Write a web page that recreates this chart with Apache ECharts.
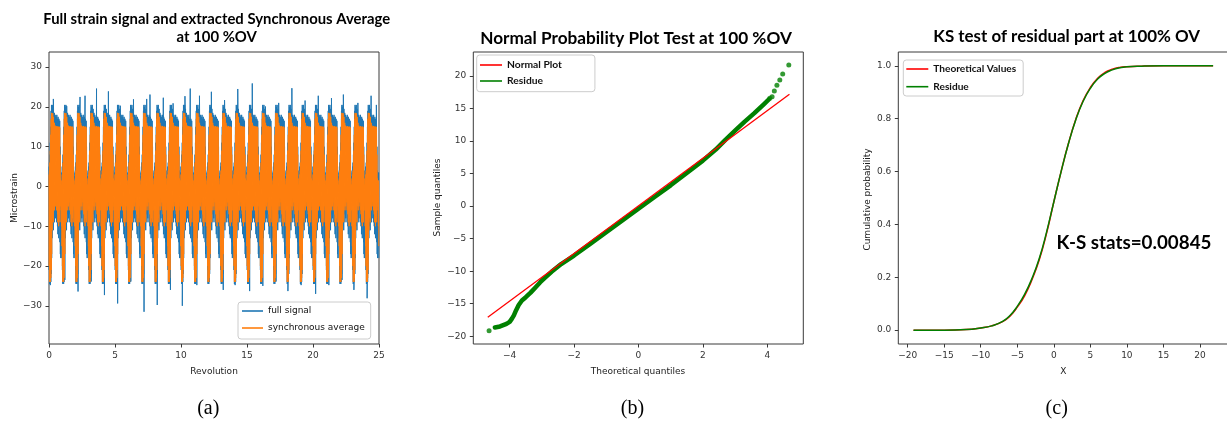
<!DOCTYPE html>
<html><head><meta charset="utf-8">
<script src="https://cdn.jsdelivr.net/npm/echarts@6/dist/echarts.min.js"></script>
<style>html,body{margin:0;padding:0;background:#fff}#c{width:1227px;height:421px}</style>
</head><body><div id="c"></div>
<script>
// ---------- Panel (a): full strain signal and synchronous average ----------
const revolutions = 25;
const revolutionTicks = [0, 5, 10, 15, 20, 25];
const strainTicks = [-30, -20, -10, 0, 10, 20, 30];
// one revolution of the synchronous average (upper / lower swing of the oscillation, 32 phases)
const syncUpper = [3,4,6,9,13,17,18.5,18.3,17,18.4,16.5,17.5,15.2,16,15,15.3,15,15,14.8,15.2,15,15,14.9,15,15,15,14.8,8,2,0.5,0.3,1.5];
const syncLower = [-20,-24,-23.8,-24,-23,-21,-17,-11,-8,-6,-9,-5,-4,-6,-3,-5,-4,-3,-6,-4,-7,-9,-6,-10,-8,-6,-9,-5,-4,-6,-10,-15];
// typical swing of the full signal within a revolution
const fullUpper = [5,6,8,11,15,19,20.5,20,19,20.5,18.5,19.5,17.5,18.5,17,18,17.5,16.5,17.5,18,16.5,17,17.5,16.5,17,16.5,16.5,10,4,2.5,2.5,3.5];
const fullLower = [-21,-24.5,-24.3,-24.5,-24,-22,-18,-13,-10,-8,-11,-7,-6,-9,-5,-8,-6,-5,-9,-7,-10,-12,-9,-13,-10,-8,-14,-17,-18,-12,-13,-18];
// individual peaks of the full signal [revolution, microstrain]
const fullTopPeaks = [[0.33,22.0],[1.34,20.2],[2.35,22.5],[2.73,22.8],[3.6,24.6],[4.5,23.9],[5.4,20.3],[6.4,21.9],[7.4,22.0],[7.65,23.1],[8.66,22.3],[9.4,20.9],[10.3,22.7],[10.7,24.6],[11.4,22.8],[12.3,23.8],[13.3,21.7],[14.3,24.5],[15.4,25.9],[16.4,20.1],[17.4,21.0],[18.4,24.7],[19.4,21.6],[20.4,22.8],[21.4,22.2],[22.3,23.1],[23.4,21.0],[24.4,22.8],[24.8,20.5]];
const fullBottomPeaks = [[0.1,-24.8],[1.2,-23.5],[2.2,-26.4],[3.2,-23.9],[4.2,-27.3],[5.2,-29.4],[6.2,-23.9],[7.2,-31.5],[8.2,-29.8],[9.2,-26.0],[10.1,-30.0],[11.2,-24.8],[12.1,-23.9],[13.2,-26.0],[14.1,-24.8],[15.2,-26.3],[16.2,-25.0],[17.2,-23.9],[18.1,-26.3],[19.1,-24.8],[20.2,-27.0],[21.2,-24.8],[22.2,-23.5],[23.1,-26.0],[24.1,-28.1]];

// ---------- Panel (b): normal probability plot ----------
const qqXTicks = [-4, -2, 0, 2, 4];
const qqYTicks = [-20, -15, -10, -5, 0, 5, 10, 15, 20];
const normalLine = [[-4.68, -17.1], [4.69, 17.2]];
const residueBand = [[-4.46,-18.65],[-4.3,-18.5],[-4.2,-18.3],[-4.1,-18.1],[-4.0,-17.8],[-3.93,-17.3],[-3.87,-16.8],[-3.8,-16.0],[-3.72,-15.2],[-3.62,-14.5],[-3.5,-14.0],[-3.35,-13.3],[-3.2,-12.5],[-3.05,-11.7],[-2.9,-11.0],[-2.7,-10.1],[-2.4,-8.9],[-2.0,-7.6],[-1.5,-5.8],[-1.0,-4.0],[-0.5,-2.2],[0,-0.4],[0.5,1.4],[1.0,3.2],[1.5,5.1],[2.0,7.0],[2.4,8.7],[2.7,10.2],[3.0,11.6],[3.3,13.0],[3.6,14.3],[3.9,15.7],[4.05,16.4]];
const residueTailDots = [[-4.64,-19.15],[4.08,16.6],[4.15,16.8],[4.22,17.7],[4.30,18.6],[4.39,19.4],[4.48,20.3],[4.67,21.7]];

// ---------- Panel (c): KS test ----------
const ksXTicks = [-20, -15, -10, -5, 0, 5, 10, 15, 20];
const ksYTicks = [0, 0.2, 0.4, 0.6, 0.8, 1.0];
const ksX =            [-19.2,-15,  -12,  -10,  -8.5, -7,   -6,   -5,  -4,   -3,   -2,  -1,  0,    1,   2,    3,    4,    5,    6,   7,    8,    9,    10,   12,   15,  21.8];
const ksTheoretical =  [0.000,0.000,0.002,0.008,0.016,0.032,0.053,0.087,0.13,0.19, 0.265,0.365,0.485,0.6,0.706,0.797,0.868,0.918,0.953,0.975,0.987,0.994,0.997,0.999,1.0,1.0];
const ksResidue =      [0.000,0.000,0.002,0.008,0.016,0.033,0.055,0.09, 0.135,0.195,0.27,0.37,0.485,0.6,0.705,0.795,0.865,0.915,0.95,0.972,0.985,0.993,0.997,0.999,1.0,1.0];

// ---------- helpers ----------
function periodic(upper, lower) {
  const out = [], n = upper.length;
  for (let r = 0; r < revolutions; r++) {
    for (let k = 0; k < n; k++) {
      out.push([r + k / n, upper[k]]);
      out.push([r + (k + 0.5) / n, lower[k]]);
    }
  }
  return out;
}
const syncData = periodic(syncUpper, syncLower);
const fullData = periodic(fullUpper, fullLower).concat(fullTopPeaks, fullBottomPeaks).sort((a, b) => a[0] - b[0]);
const zip = (xs, ys) => xs.map((x, i) => [x, ys[i]]);

const LATO = "Lato, 'Open Sans', sans-serif";
const DEJAVU = "'DejaVu Sans', sans-serif";
const SERIF = "'Liberation Serif', serif";
const mctx = document.createElement('canvas').getContext('2d');
function fit(text, weight, family, width) { mctx.font = weight + ' 100px ' + family; return 100 * width / mctx.measureText(text).width; }
const minus = v => String(v).replace('-', '\u2212');

const titleA = 'Full strain signal and extracted Synchronous Average';
const titleB = 'Normal Probability Plot Test at 100 %OV';
const titleC = 'KS test of residual part at 100% OV';
const ksText = 'K-S stats=0.00845';
const sA = fit(titleA, 'bold', LATO, 347);
const sB = fit(titleB, 'bold', LATO, 312);
const sC = fit(titleC, 'bold', LATO, 267);
const sK = fit(ksText, 'bold', LATO, 155);
const sLegB = fit('Normal Plot', 'bold', LATO, 55);
const sLegC = fit('Theoretical Values', 'bold', LATO, 83);

function gtext(text, x, y, family, size, opts) {
  opts = opts || {};
  return { type: 'text', x: x, y: y, rotation: opts.rot || 0, silent: true, z: 10,
    style: { text: text, fontFamily: family, fontSize: size, fontWeight: opts.weight || 'normal',
      fill: opts.color || '#222', align: 'center', verticalAlign: 'middle',
      textAlign: 'center', textVerticalAlign: 'middle' } };
}
const graphics = [
  gtext(titleA, 216.7, 19, LATO, sA, {weight: 'bold', color: '#000'}),
  gtext('at 100 %OV', 216.7, 37.5, LATO, sA, {weight: 'bold', color: '#000'}),
  gtext(titleB, 636, 38, LATO, sB, {weight: 'bold', color: '#000'}),
  gtext(titleC, 1066.7, 37, LATO, sC, {weight: 'bold', color: '#000'}),
  gtext('Revolution', 214, 371.5, DEJAVU, 9),
  gtext('Microstrain', 15, 198, DEJAVU, 9, {rot: Math.PI / 2}),
  gtext('Theoretical quantiles', 638, 371.5, DEJAVU, 9),
  gtext('Sample quantiles', 437.5, 197.5, DEJAVU, 9, {rot: Math.PI / 2}),
  gtext('X', 1063.3, 371.5, DEJAVU, 9),
  gtext('Cumulative probability', 867.5, 199.5, DEJAVU, 9, {rot: Math.PI / 2}),
  gtext(ksText, 1134, 242.5, LATO, sK, {weight: 'bold', color: '#000'}),
  gtext('(a)', 208.3, 409, SERIF, 20, {color: '#000'}),
  gtext('(b)', 632.5, 409, SERIF, 20, {color: '#000'}),
  gtext('(c)', 1056.7, 409, SERIF, 20, {color: '#000'})
];

function grid(left) {
  return { left: left, top: 52, width: 330, height: 292, show: true, borderColor: '#3a3a3a', borderWidth: 1,
    backgroundColor: 'transparent', containLabel: false, outerBoundsMode: 'none' };
}
function axis(gi, min, max, ticks, fmt) {
  return { type: 'value', gridIndex: gi, min: min, max: max, scale: true,
    axisLine: { show: false, onZero: false }, splitLine: { show: false },
    axisTick: { show: true, length: 3.5, lineStyle: { color: '#3a3a3a', width: 1 }, customValues: ticks },
    axisLabel: { customValues: ticks, formatter: fmt, margin: 7, color: '#333',
      fontFamily: 'DejaVu Sans', fontSize: 9, showMinLabel: true, showMaxLabel: true, hideOverlap: false } };
}
const fmtInt = v => minus(Math.round(v));
const fmt1 = v => minus(v.toFixed(1));

function legend(names, left, top, pad, gap, fontSize, fontWeight, fontFamily, itemWidth) {
  return { data: names, orient: 'vertical', left: left, top: top, padding: pad, itemGap: gap,
    icon: 'rect', itemWidth: itemWidth, itemHeight: 1.6, selectedMode: false,
    backgroundColor: 'rgba(255,255,255,0.85)', borderColor: '#cccccc', borderWidth: 1, borderRadius: 3,
    textStyle: { fontSize: fontSize, fontWeight: fontWeight, fontFamily: fontFamily, color: '#111', lineHeight: 12 } };
}

const option = {
  animation: false,
  backgroundColor: '#fff',
  grid: [grid(49), grid(473.3), grid(898.3)],
  xAxis: [
    axis(0, 0, 25, revolutionTicks, fmtInt),
    axis(1, -5.13, 5.12, qqXTicks, fmtInt),
    axis(2, -21.28, 23.88, ksXTicks, fmtInt)
  ],
  yAxis: [
    axis(0, -39.6, 33.8, strainTicks, fmtInt),
    axis(1, -21.2, 23.7, qqYTicks, fmtInt),
    axis(2, -0.0525, 1.0525, ksYTicks, fmt1)
  ],
  legend: [
    legend(['full signal', 'synchronous average'], 238, 302, [3, 6, 5, 4], 5, 9, 'normal', 'DejaVu Sans', 21),
    legend(['Normal Plot', 'Residue'], 476.7, 55, [4, 33, 4.7, 3.3], 4, sLegB, 'bold', 'Lato', 22),
    legend(['Theoretical Values', 'Residue '], 903.3, 60, [3, 7, 3.3, 3], 5.7, sLegC, 'bold', 'Lato', 22)
  ],
  series: [
    { name: 'full signal', type: 'line', xAxisIndex: 0, yAxisIndex: 0, data: fullData, showSymbol: false,
      color: '#1f77b4', lineStyle: { color: '#1f77b4', width: 1 }, itemStyle: { color: '#1f77b4' }, z: 2, silent: true },
    { name: 'synchronous average', type: 'line', xAxisIndex: 0, yAxisIndex: 0, data: syncData, showSymbol: false,
      color: '#ff7f0e', lineStyle: { color: '#ff7f0e', width: 1 }, itemStyle: { color: '#ff7f0e' }, z: 3, silent: true },

    { name: 'Residue', type: 'line', xAxisIndex: 1, yAxisIndex: 1, data: residueBand, showSymbol: false,
      color: '#008000', lineStyle: { color: '#008000', width: 4.5, cap: 'round', join: 'round' }, itemStyle: { color: '#008000' }, z: 2, silent: true },
    { name: 'Residue', type: 'scatter', xAxisIndex: 1, yAxisIndex: 1, data: residueTailDots, symbolSize: 5,
      itemStyle: { color: '#008000' }, z: 2, silent: true },
    { name: 'Normal Plot', type: 'line', xAxisIndex: 1, yAxisIndex: 1, data: normalLine, showSymbol: false,
      color: '#ff0000', lineStyle: { color: '#ff0000', width: 1.3 }, itemStyle: { color: '#ff0000' }, z: 3, silent: true },

    { name: 'Theoretical Values', type: 'line', xAxisIndex: 2, yAxisIndex: 2, data: zip(ksX, ksTheoretical), showSymbol: false,
      smooth: 0.5,
      color: '#ff0000', lineStyle: { color: '#ff0000', width: 1.5 }, itemStyle: { color: '#ff0000' }, z: 2, silent: true },
    { name: 'Residue ', type: 'line', xAxisIndex: 2, yAxisIndex: 2, data: zip(ksX, ksResidue), showSymbol: false,
      smooth: 0.5,
      color: '#008000', lineStyle: { color: '#008000', width: 1.5 }, itemStyle: { color: '#008000' }, z: 3, silent: true }
  ],
  graphic: graphics
};
const chart = echarts.init(document.getElementById('c'), null, { renderer: 'canvas' });
chart.setOption(option);
</script>
</body></html>
